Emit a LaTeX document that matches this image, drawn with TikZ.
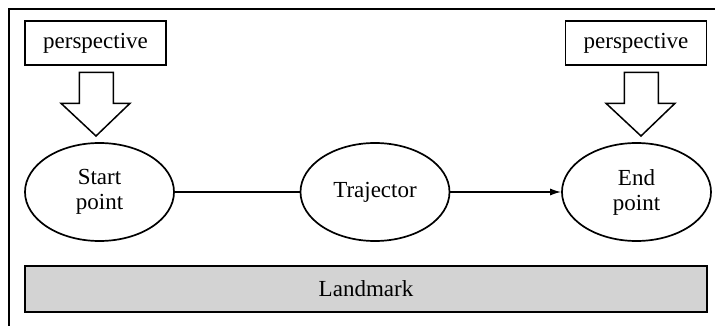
\documentclass[tikz,border=0pt]{standalone}
\usepackage{fontspec}
\setmainfont{Liberation Serif}
\usetikzlibrary{shapes.geometric,arrows.meta}
\begin{document}
\begin{tikzpicture}[x=1pt,y=-1pt,
  lbl/.style={font=\fontsize{23}{25}\selectfont},
  persp/.style={draw,line width=1.6pt,minimum width=141pt,minimum height=44pt,inner sep=0pt,lbl},
  oval/.style={draw,ellipse,line width=1.7pt,minimum width=149pt,minimum height=98pt,inner sep=0pt,align=center,lbl},
  blockarrow/.style={draw,line width=1.5pt,fill=white,line join=miter},
  conn/.style={line width=1.5pt}]
\useasboundingbox (0,0) rectangle (715,326);
\draw[line width=2.8pt] (9,340) -- (9,9) -- (730,9);
\node[persp] (p1) at (95.5,43) {perspective};
\node[persp] (p2) at (636,43) {perspective};
\node[oval] (sp) at (99.5,192) {Start\\point};
\node[oval] (tr) at (375,192) {Trajector};
\node[oval] (ep) at (636.5,192) {End\\point};
\draw[blockarrow] (79.3,72.3) -- (113.3,72.3) -- (113.3,103.3) -- (130,103.3) -- (96,136) -- (61,103.3) -- (79.3,103.3) -- cycle;
\draw[blockarrow] (624.3,72.3) -- (658.3,72.3) -- (658.3,103.3) -- (675,103.3) -- (641,136) -- (606,103.3) -- (624.3,103.3) -- cycle;
\draw[conn] (sp.east) -- (tr.west);
\draw[conn,-{Latex[length=11pt,width=7pt]}] (tr.east) -- (ep.west);
\node[draw,line width=2.2pt,fill={rgb,255:red,211;green,211;blue,211},minimum width=682pt,minimum height=46pt,inner sep=0pt,lbl] (lm) at (366,289) {Landmark};
\end{tikzpicture}
\end{document}
